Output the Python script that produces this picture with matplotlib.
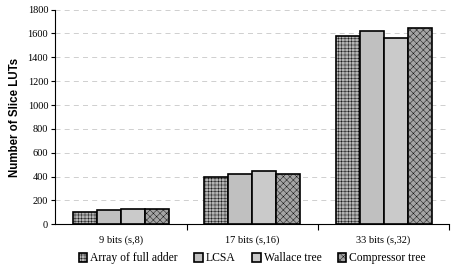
import numpy as np
import matplotlib
matplotlib.use("Agg")
import matplotlib.pyplot as plt

categories = ["9 bits (s,8)", "17 bits (s,16)", "33 bits (s,32)"]
series_names = ["Array of full adder", "LCSA", "Wallace tree", "Compressor tree"]
array_full_adder = [100, 400, 1575]
lcsa = [120, 420, 1620]
wallace_tree = [125, 445, 1560]
compressor_tree = [130, 420, 1645]
series_values = [array_full_adder, lcsa, wallace_tree, compressor_tree]

face_colors = ["#b4b4b4", "#c0c0c0", "#cacaca", "#a4a4a4"]
hatches = ["+++++", None, None, "xxxxx"]

plt.rcParams["hatch.linewidth"] = 0.3
plt.rcParams["hatch.color"] = "#7a7a7a"

fig = plt.figure(figsize=(4.52, 2.68), dpi=100)
ax = fig.add_axes([0.122, 0.163, 0.872, 0.801])

x = np.arange(len(categories))
width = 0.183
for i, (name, vals) in enumerate(zip(series_names, series_values)):
    offs = (i - 1.5) * width
    ax.bar(x + offs, vals, width, label=name, color=face_colors[i],
           edgecolor="black", linewidth=1.2, hatch=hatches[i], zorder=3)

ax.set_xlim(-0.5, 2.5)
ax.set_ylim(0, 1800)
ax.set_yticks(range(0, 1801, 200))
ax.set_yticklabels([str(v) for v in range(0, 1801, 200)],
                   fontfamily="Liberation Serif", fontsize=7.5)
ax.set_xticks([0.5, 1.5, 2.5], minor=False)
ax.set_xticklabels([])
ax.set_xticks(x, minor=True)
ax.set_xticklabels(categories, minor=True, fontfamily="Liberation Serif", fontsize=7.5)
ax.tick_params(axis="x", which="minor", length=0, pad=8)
ax.tick_params(axis="x", which="major", direction="out", length=4, width=0.8)
ax.tick_params(axis="y", direction="out", length=3, width=0.8, pad=2)

ax.set_ylabel("Number of Slice LUTs", fontfamily="Liberation Sans",
              fontweight="bold", fontsize=8.3, labelpad=5)
ax.grid(True, axis="y", color="#c8c8c8", linestyle=(0, (6, 5)), linewidth=0.6, zorder=0)
for s in ["top", "right"]:
    ax.spines[s].set_visible(False)
ax.spines["left"].set_linewidth(0.8)
ax.spines["bottom"].set_linewidth(0.8)

ax.legend(loc="upper center", bbox_to_anchor=(0.5, -0.125), ncol=4, frameon=False,
          prop={"family": "Liberation Serif", "size": 8.4}, handlelength=0.75,
          handleheight=0.75, handletextpad=0.25, columnspacing=1.4, borderaxespad=0,
          borderpad=0.1)

plt.savefig("out.png", dpi=100)
plt.close()
